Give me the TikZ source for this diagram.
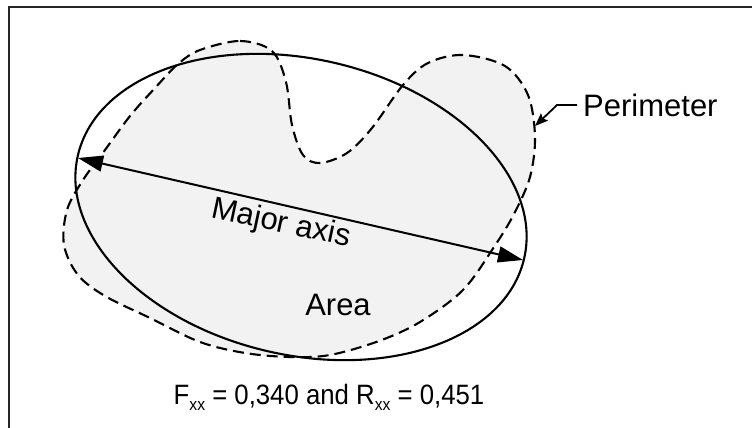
\documentclass[tikz,border=0pt]{standalone}
\usepackage{fontspec}
\setmainfont{Liberation Sans}
\usetikzlibrary{arrows.meta}
\newcommand{\sbx}[1]{\raisebox{-0.22em}{\fontsize{17}{17}\selectfont #1}}
\begin{document}
\begin{tikzpicture}[x=1pt,y=-1pt,
  frameline/.style={line width=1.5pt,draw=black!85},
  perim/.style={line width=2.1pt,dash pattern=on 11pt off 6pt,fill=black!5},
  ellip/.style={line width=2.1pt},
  axisarrow/.style={line width=2pt,{Triangle[length=25pt,width=16pt]}-{Triangle[length=25pt,width=16pt]}},
  leader/.style={line width=1.8pt,-{Stealth[length=13pt,width=10pt,inset=2pt]}},
  lbl/.style={font=\fontsize{31}{31}\selectfont,inner sep=0pt}]
\useasboundingbox (0,0) rectangle (752,428);
\draw[frameline] (9,428) -- (9,7) -- (752,7);
% perimeter shape
\draw[perim] plot[smooth cycle, tension=0.55] coordinates {(200,50) (240,41) (272,51) (286,82) (292,125) (303,155) (320,163) (347,153) (372,128) (403,85) (428,63) (463,55) (505,66) (528,95) (535,137) (530,177) (514,214) (494,247) (463,290) (420,322) (379,341) (330,355) (290,357) (245,353) (200,342) (150,318) (105,296) (78,275) (64,245) (67,210) (83,180) (105,150) (130,116) (155,88) (178,64)};
% ellipse
\draw[ellip, rotate around={-13:(301,207)}] (301,207) ellipse [x radius=229pt, y radius=148pt];
% major axis
\coordinate (axL) at (78,158);
\coordinate (axR) at (523,260);
\draw[axisarrow] (axL) -- (axR);
\node[lbl, rotate=-12] (major) at (281,224) {Major axis};
\node[lbl, anchor=base] (area) at (338,315) {Area};
% perimeter label
\node[lbl, anchor=west] (per) at (583,105) {Perimeter};
\coordinate (elbow) at (557,105);
\coordinate (ptip) at (535,126);
\draw[leader] (per.west) ++(-6,0) -- (elbow) -- (ptip);
% formula
\node[font=\fontsize{28}{28}\selectfont,inner sep=0pt,anchor=base] (formula) at (329,404) {\scalebox{0.92}[1]{F\sbx{xx} = 0,340 and R\sbx{xx} = 0,451}};
\end{tikzpicture}
\end{document}
